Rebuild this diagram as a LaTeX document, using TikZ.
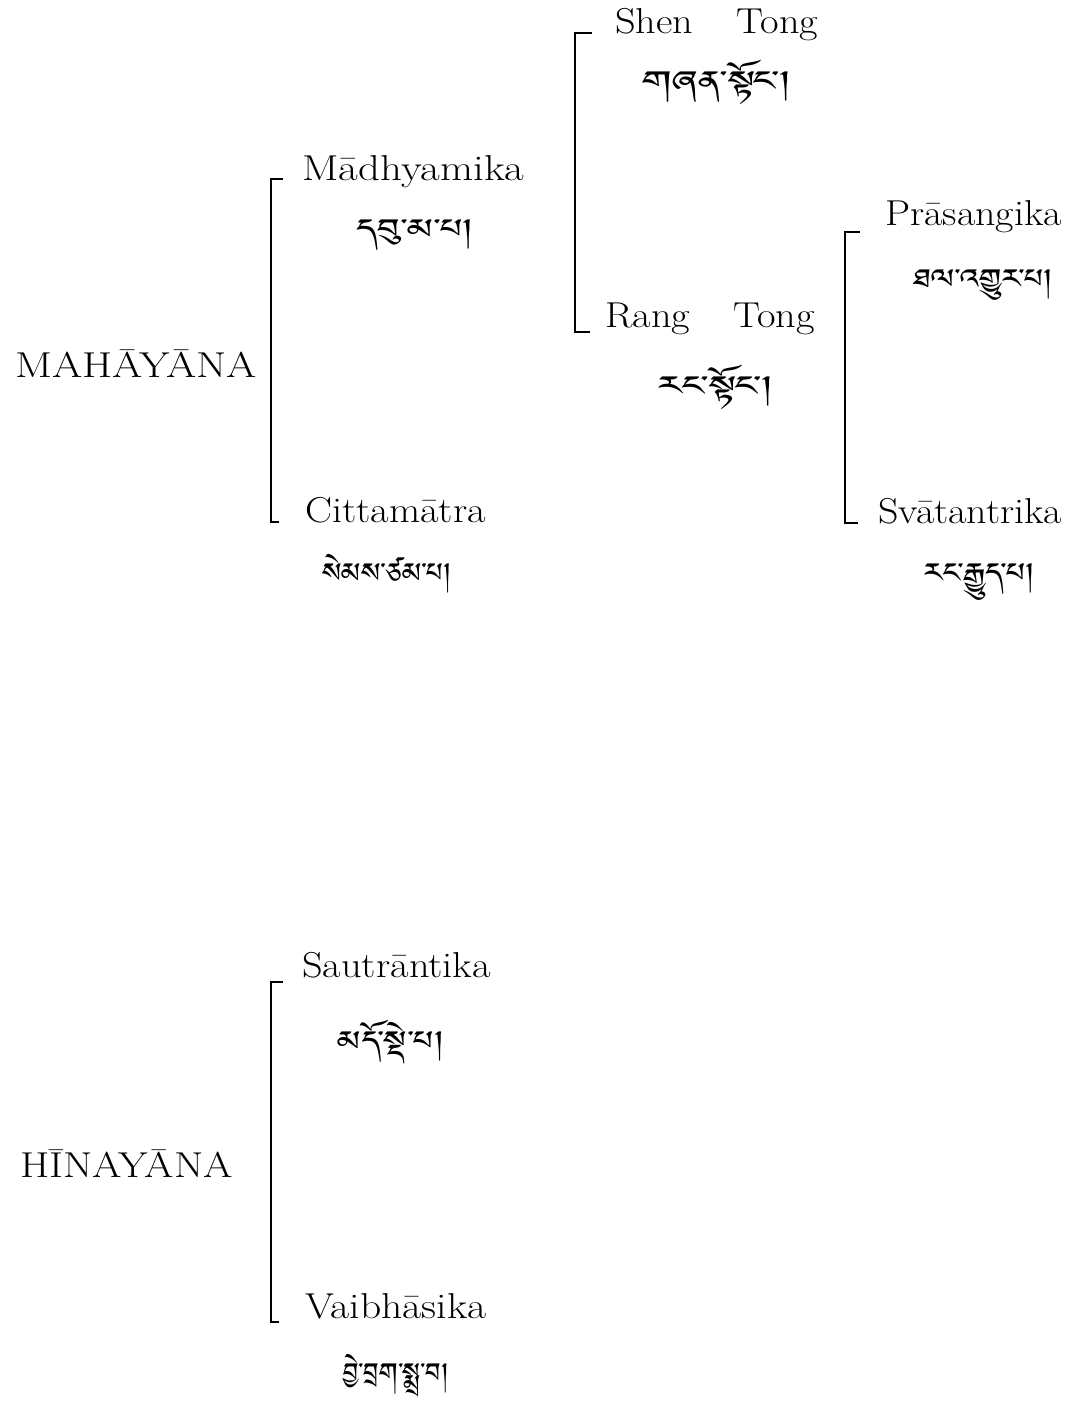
\documentclass[tikz,border=0pt]{standalone}
\usepackage{fontspec}
\setmainfont{Latin Modern Roman}
\IfFontExistsTF{Jomolhari}{\newfontfamily\tibfont[Script=Tibetan]{Jomolhari}}{%
 \IfFontExistsTF{Tibetan Machine Uni}{\newfontfamily\tibfont[Script=Tibetan]{Tibetan Machine Uni}}{%
  \IfFontExistsTF{Noto Serif Tibetan}{\newfontfamily\tibfont[Script=Tibetan]{Noto Serif Tibetan}}{%
   \newfontfamily\tibfont{DejaVu Sans}}}}
\newcommand\sx[2]{\scalebox{#1}[1]{#2}}
\tikzset{
  lat/.style={inner sep=0pt, anchor=base west, font=\fontsize{27}{31}\selectfont},
  tib/.style={inner sep=0pt, anchor=base, font=\tibfont\fontsize{26}{30}\selectfont},
  brk/.style={line width=1.3pt, line cap=butt, line join=miter}
}
\begin{document}
\begin{tikzpicture}[x=0.75pt,y=-0.75pt]
\useasboundingbox[fill=white] (0,0) rectangle (1073,1407);
% roots
\node[lat] (maha) at (15,377) {\sx{1.21}{MAHĀYĀNA}};
\node[lat] (hina) at (20,1177) {\sx{1.175}{HĪNAYĀNA}};
% Mahayana branches
\node[lat] (madh) at (302,180) {\sx{1.19}{Mādhyamika}};
\node[tib] (madhT) at (415,245) {\sx{1.38}{དབུ་མ་པ།}};
\node[lat] (citta) at (305,522) {\sx{1.12}{Cittamātra}};
\node[tib] (cittaT) at (387,589) {\sx{1.03}{སེམས་ཙམ་པ།}};
% Madhyamika branches
\node[lat] (shen) at (615,33) {\sx{1.12}{Shen\hspace{29pt}Tong}};
\node[tib] (shenT) at (717,97) {\sx{1.52}{གཞན་སྟོང།}};
\node[lat] (rang) at (605,327) {\sx{1.12}{Rang\hspace{29pt}Tong}};
\node[tib] (rangT) at (716,402) {\sx{1.52}{རང་སྟོང།}};
% Rang Tong branches
\node[lat] (pras) at (885,225) {\sx{1.11}{Prāsangika}};
\node[tib] (prasT) at (983,295) {\sx{1.18}{ཐལ་འགྱུར་པ།}};
\node[lat] (svat) at (878,523) {\sx{1.11}{Svātantrika}};
\node[tib] (svatT) at (980,589) {\sx{1.18}{རང་རྒྱུད་པ།}};
% Hinayana branches
\node[lat] (saut) at (302,977) {\sx{1.12}{Sautrāntika}};
\node[tib] (sautT) at (391,1057) {\sx{1.25}{མདོ་སྡེ་པ།}};
\node[lat] (vaib) at (305,1318) {\sx{1.155}{Vaibhāsika}};
\node[tib] (vaibT) at (396,1389) {\sx{0.95}{བྱེ་བྲག་སྨྲ་བ།}};
% brackets
\coordinate (b1a) at (283,179); \coordinate (b1b) at (271,179);
\coordinate (b1c) at (271,522); \coordinate (b1d) at (279,522);
\draw[brk] (b1a) -- (b1b) -- (b1c) -- (b1d);
\coordinate (b2a) at (592,33); \coordinate (b2b) at (575,33);
\coordinate (b2c) at (575,332); \coordinate (b2d) at (590,332);
\draw[brk] (b2a) -- (b2b) -- (b2c) -- (b2d);
\coordinate (b3a) at (860,232); \coordinate (b3b) at (845,232);
\coordinate (b3c) at (845,523); \coordinate (b3d) at (858,523);
\draw[brk] (b3a) -- (b3b) -- (b3c) -- (b3d);
\coordinate (b4a) at (283,982); \coordinate (b4b) at (271,982);
\coordinate (b4c) at (271,1322); \coordinate (b4d) at (279,1322);
\draw[brk] (b4a) -- (b4b) -- (b4c) -- (b4d);
\end{tikzpicture}
\end{document}
